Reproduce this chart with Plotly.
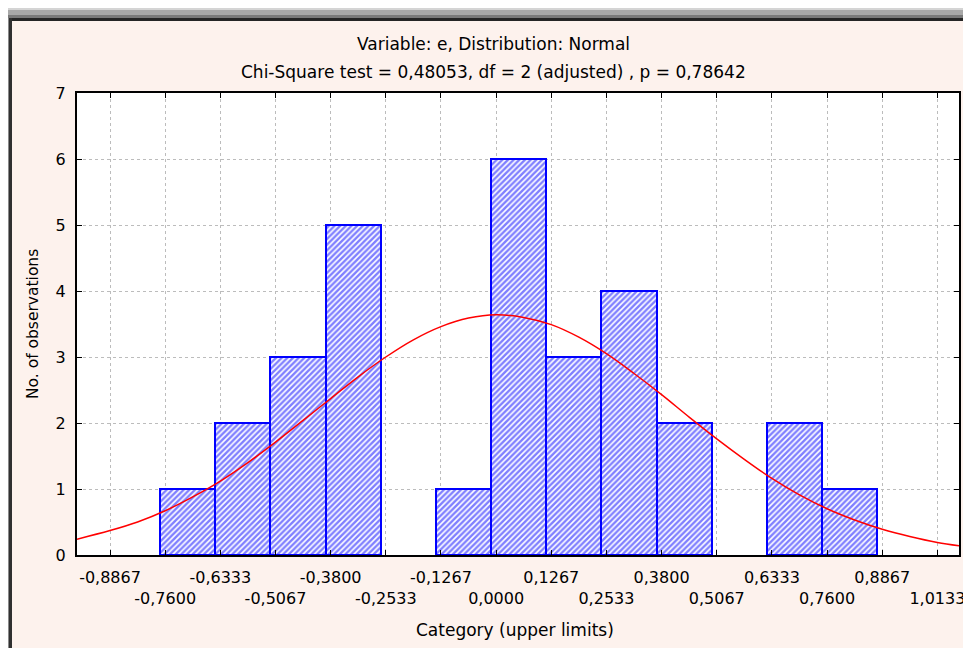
import plotly.graph_objects as go

# ---- data ----
bin_lower = [-0.8867, -0.7600, -0.6333, -0.5067, -0.3800, -0.2533, -0.1267,
             0.0000, 0.1267, 0.2533, 0.3800, 0.5067, 0.6333, 0.7600]
bin_upper = [-0.7600, -0.6333, -0.5067, -0.3800, -0.2533, -0.1267, 0.0000,
             0.1267, 0.2533, 0.3800, 0.5067, 0.6333, 0.7600, 0.8867]
counts = [0, 1, 2, 3, 5, 0, 1, 6, 3, 4, 2, 0, 2, 1]

curve_x = [-0.9625, -0.8867, -0.8233, -0.7600, -0.6967, -0.6333, -0.5700, -0.5067,
           -0.4433, -0.3800, -0.3167, -0.2533, -0.1900, -0.1267, -0.0633, 0.0000,
           0.0633, 0.1267, 0.1900, 0.2533, 0.3167, 0.3800, 0.4433, 0.5067,
           0.5700, 0.6333, 0.6967, 0.7600, 0.8233, 0.8867, 0.9500, 1.0133, 1.0630]
curve_y = [0.24, 0.37, 0.50, 0.67, 0.88, 1.12, 1.40, 1.71,
           2.04, 2.37, 2.70, 3.00, 3.26, 3.46, 3.59, 3.64,
           3.60, 3.49, 3.30, 3.05, 2.75, 2.43, 2.09, 1.76,
           1.45, 1.16, 0.91, 0.70, 0.53, 0.39, 0.28, 0.19, 0.14]

tick_vals = [-0.8867, -0.7600, -0.6333, -0.5067, -0.3800, -0.2533, -0.1267, 0.0000,
             0.1267, 0.2533, 0.3800, 0.5067, 0.6333, 0.7600, 0.8867, 1.0133]
tick_labels = ["-0,8867", "-0,7600", "-0,6333", "-0,5067", "-0,3800", "-0,2533",
               "-0,1267", "0,0000", "0,1267", "0,2533", "0,3800", "0,5067",
               "0,6333", "0,7600", "0,8867", "1,0133"]

title1 = "Variable: e, Distribution: Normal"
title2 = "Chi-Square test = 0,48053, df = 2 (adjusted) , p = 0,78642"
x_title = "Category (upper limits)"
y_title = "No. of observations"

# ---- layout geometry (figure pixel coords) ----
W, H = 971, 648
L, R, T, B = 69, 20, 85, 101
PW, PH = W - L - R, H - T - B
XMIN, XMAX = -0.9625, 1.0630
BAR_SHIFT = 5 / PW * (XMAX - XMIN)  # Statistica draws bars a few px left of grid
FONT = "DejaVu Sans"

def px(xp):
    return (xp - L) / PW

def py(yp):
    return (H - B - yp) / PH

centers = [(a + b) / 2 for a, b in zip(bin_lower, bin_upper)]
widths = [b - a for a, b in zip(bin_lower, bin_upper)]
line_w = [0 if c == 0 else 2 for c in counts]

ticktext = [t if i % 2 == 0 else "<br>" + t for i, t in enumerate(tick_labels)]

fig = go.Figure()
# base subplot (holds the visible axes and grid)
fig.add_trace(go.Scatter(x=[], y=[], mode="lines", showlegend=False, hoverinfo="skip"))
fig.add_trace(go.Bar(
    x=centers, y=counts, width=widths, xaxis="x2",
    marker=dict(color="white",
                line=dict(color="#0000ff", width=line_w),
                pattern=dict(shape="/", fgcolor="#0000ff", bgcolor="white",
                             size=4, solidity=0.6)),
    showlegend=False, hoverinfo="skip"))
fig.add_trace(go.Scatter(
    x=curve_x, y=curve_y, mode="lines", xaxis="x3",
    line=dict(color="#ff0000", width=1.5, shape="spline"),
    showlegend=False, hoverinfo="skip"))

axis_common = dict(showline=True, linecolor="black", linewidth=2, mirror="ticks",
                   ticks="inside", ticklen=5, tickcolor="black", tickwidth=1,
                   showgrid=True, gridcolor="#bcbcbc", griddash="dot", gridwidth=1,
                   zeroline=False, tickfont=dict(family=FONT, size=16, color="black"))

fig.update_layout(
    width=W, height=H,
    margin=dict(l=L, r=R, t=T, b=B, autoexpand=False),
    paper_bgcolor="#fdf2ed", plot_bgcolor="white",
    bargap=0,
    xaxis=dict(range=[XMIN, XMAX], tickvals=tick_vals, ticktext=ticktext, tickangle=0,
               ticklabelstandoff=7, **axis_common),
    xaxis2=dict(range=[XMIN + BAR_SHIFT, XMAX + BAR_SHIFT], overlaying="x",
                visible=False, showgrid=False),
    xaxis3=dict(range=[XMIN, XMAX], overlaying="x", visible=False, showgrid=False),
    yaxis=dict(range=[0, 7], tickvals=[0, 1, 2, 3, 4, 5, 6, 7], ticklabelstandoff=6,
               **axis_common),
    font=dict(family=FONT, size=16, color="black"),
)

annotations = [
    dict(text=title1, x=px(485), y=py(36), size=17),
    dict(text=title2, x=px(485), y=py(64), size=17),
    dict(text=x_title, x=px(507), y=py(622), size=17),
    dict(text=y_title, x=px(25), y=py(316), size=15.5, textangle=-90),
]
for a in annotations:
    size = a.pop("size")
    fig.add_annotation(xref="paper", yref="paper", showarrow=False,
                       xanchor="center", yanchor="middle",
                       font=dict(family=FONT, size=size, color="black"), **a)

# window frame of the original screenshot
frame = [
    (0, 0, W, 2, "#d4d4d4"),
    (0, 2, W, 7, "#a8a8a8"),
    (0, 7, W, 10, "#7a7a7a"),
    (0, 10, W, 13, "#252525"),
    (0, 10, 1, H, "#8a8a8a"),
    (1, 10, 4, H, "#303030"),
]
for x0, y0, x1, y1, c in frame:
    fig.add_shape(type="rect", xref="paper", yref="paper",
                  x0=px(x0), x1=px(x1), y0=py(y1), y1=py(y0),
                  fillcolor=c, line=dict(width=0), layer="below")

fig.write_html("out.html")
